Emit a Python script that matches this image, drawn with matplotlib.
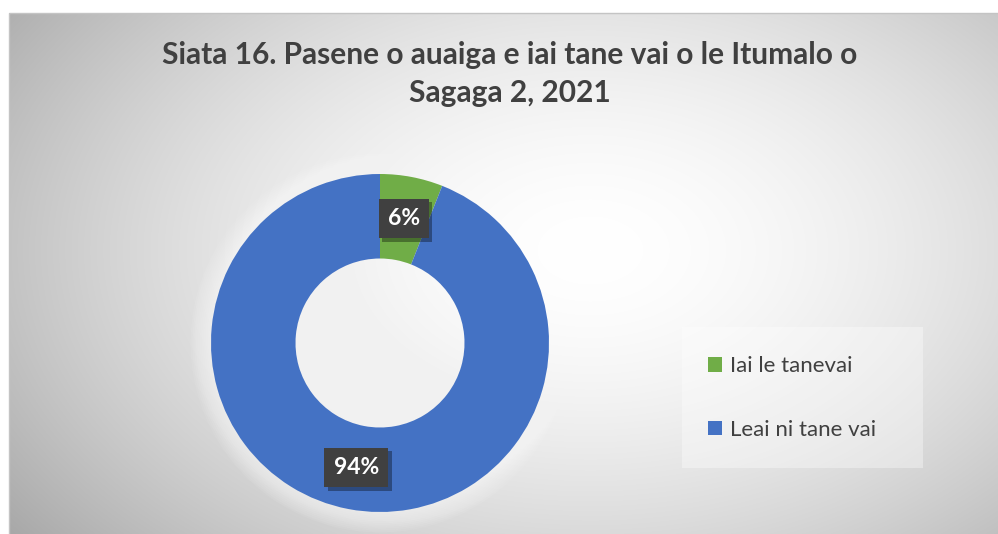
import numpy as np
import matplotlib
matplotlib.use("Agg")
import matplotlib.pyplot as plt
from matplotlib.patches import Rectangle, Circle
import matplotlib.patheffects as pe

plt.rcParams['font.family'] = ['Lato', 'DejaVu Sans']

# data
categories = ['Iai le tanevai', 'Leai ni tane vai']
shares = [6, 94]
colors = ['#70AD47', '#4472C4']
title = 'Siata 16. Pasene o auaiga e iai tane vai o le Itumalo o\nSagaga 2, 2021'

W, H = 998, 534
fig = plt.figure(figsize=(W / 100, H / 100), dpi=100)
fig.patch.set_facecolor('white')

# chart area with radial gradient background
x0, y0 = 9, 13
bg = fig.add_axes([x0 / W, 0, 1 - x0 / W, (H - y0) / H])
bg.set_axis_off()
yy, xx = np.mgrid[y0:H, x0:W]
cx, cy = 590, 250
r = np.sqrt(((xx - cx) / 620.0) ** 2 + ((yy - cy) / 400.0) ** 2)
g = 1.0 - 0.26 * np.clip(r, 0, 1.2) ** 1.7
img = np.dstack([g, g, g])
bg.imshow(img, aspect='auto', extent=[0, 1, 0, 1], interpolation='bilinear')
bg.set_xlim(0, 1)
bg.set_ylim(0, 1)
fig.patches.append(Rectangle((x0 / W, -0.01), 1.02 - x0 / W, (H - y0) / H + 0.01,
                             transform=fig.transFigure, fill=False,
                             edgecolor='#c4c4c4', linewidth=1.0))

# title
fig.text(510 / W, 1 - 74 / H, title, ha='center', va='center', fontsize=21.5,
         fontweight='bold', color='#404040', linespacing=1.4)

# donut
pcx, pcy, rad = 380, 343, 169
ax = fig.add_axes([(pcx - rad) / W, (H - pcy - rad) / H, 2 * rad / W, 2 * rad / H])
for i in range(12):
    ax.add_patch(Circle((0, 0), 1.0 + 0.011 * i, facecolor='white', alpha=0.07,
                        edgecolor='none', zorder=0, clip_on=False))
wedges, texts, autotexts = ax.pie(shares, colors=colors, startangle=90,
                                  counterclock=False, autopct='%.0f%%',
                                  pctdistance=0.75,
                                  wedgeprops=dict(width=0.5, edgecolor='none'))
ax.set_xlim(-1, 1)
ax.set_ylim(-1, 1)
ax.set_aspect('equal')
ax.axis('off')
for t in autotexts:
    t.set_color('white')
    t.set_fontweight('bold')
    t.set_fontsize(16.5)
    t.set_bbox(dict(boxstyle='square,pad=0.4', facecolor='#404040', edgecolor='none'))
    t.get_bbox_patch().set_path_effects([
        pe.SimplePatchShadow(offset=(2.5, -2.5), shadow_rgbFace='#000000', alpha=0.35),
        pe.Normal()])

# legend box
lx0, lx1, ly0, ly1 = 682, 923, 327, 468
fig.patches.append(Rectangle((lx0 / W, 1 - ly1 / H), (lx1 - lx0) / W, (ly1 - ly0) / H,
                             transform=fig.transFigure, facecolor='white', alpha=0.35,
                             edgecolor='none'))
fig.legend(wedges, categories, loc='center left',
           bbox_to_anchor=(708 / W, 1 - 398 / H), frameon=False, fontsize=16,
           handlelength=0.63, handleheight=0.63, handletextpad=0.35,
           labelspacing=1.95, borderpad=0, borderaxespad=0, labelcolor='#404040')

fig.savefig('out.png', dpi=100)
